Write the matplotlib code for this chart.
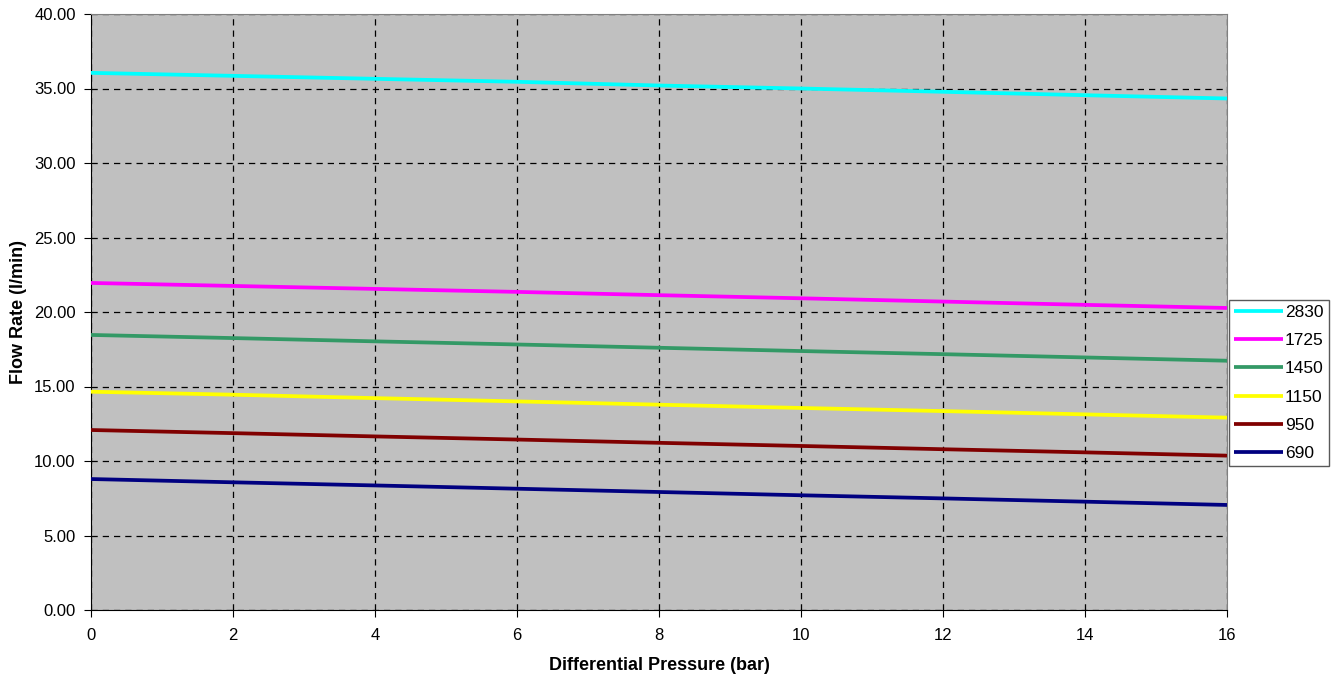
import numpy as np
import matplotlib.pyplot as plt

plt.rcParams['font.family'] = ['Liberation Sans', 'DejaVu Sans']

# differential pressure (bar)
pressure = [0, 2, 4, 6, 8, 10, 12, 14, 16]

# flow rate (l/min) per series
labels = ['2830', '1725', '1450', '1150', '950', '690']
flow_2830 = [36.05, 35.85, 35.65, 35.45, 35.20, 35.00, 34.78, 34.55, 34.33]
flow_1725 = [21.95, 21.75, 21.55, 21.35, 21.13, 20.92, 20.70, 20.48, 20.27]
flow_1450 = [18.46, 18.25, 18.03, 17.82, 17.60, 17.38, 17.17, 16.95, 16.73]
flow_1150 = [14.65, 14.45, 14.22, 14.00, 13.78, 13.56, 13.35, 13.13, 12.91]
flow_950 = [12.08, 11.87, 11.65, 11.44, 11.22, 11.01, 10.79, 10.58, 10.36]
flow_690 = [8.79, 8.57, 8.36, 8.14, 7.92, 7.70, 7.49, 7.27, 7.05]
colors = ['#00FFFF', '#FF00FF', '#339966', '#FFFF00', '#800000', '#000080']

series = [flow_2830, flow_1725, flow_1450, flow_1150, flow_950, flow_690]

fig = plt.figure(figsize=(13.4, 6.79), dpi=100)
ax = fig.add_axes([91 / 1340, 1 - 610 / 679, (1227 - 91) / 1340, (610 - 14) / 679])
ax.set_facecolor('#C0C0C0')

for vals, lab, col in zip(series, labels, colors):
    ax.plot(pressure, vals, color=col, lw=2.7, label=lab, solid_capstyle='butt', zorder=3)

ax.set_xlim(0, 16)
ax.set_ylim(0, 40)
ax.set_xticks(np.arange(0, 17, 2))
ax.set_yticks(np.arange(0, 41, 5))
ax.yaxis.set_major_formatter(plt.FuncFormatter(lambda v, p: '%.2f' % v))
ax.grid(True, color='black', linestyle=(0, (5, 4)), lw=0.9)
ax.set_axisbelow(True)

for s in ['top', 'right']:
    ax.spines[s].set_color('#808080')
for s in ['left', 'bottom']:
    ax.spines[s].set_color('black')
ax.tick_params(direction='out', length=5, labelsize=12, colors='black')
ax.tick_params(axis='x', pad=8)
ax.tick_params(axis='y', pad=6)

ax.set_xlabel('Differential Pressure (bar)', fontsize=13, fontweight='bold', labelpad=10)
ax.set_ylabel('Flow Rate (l/min)', fontsize=13, fontweight='bold', labelpad=5)

leg = ax.legend(loc='center left', bbox_to_anchor=(1.0018, 0.381), fontsize=12.5,
                frameon=True, fancybox=False, edgecolor='#303030', handlelength=2.8,
                handletextpad=0.12, borderpad=0.3, labelspacing=0.75, borderaxespad=0)
leg.get_frame().set_linewidth(1.0)

fig.savefig('out.png', dpi=100)
